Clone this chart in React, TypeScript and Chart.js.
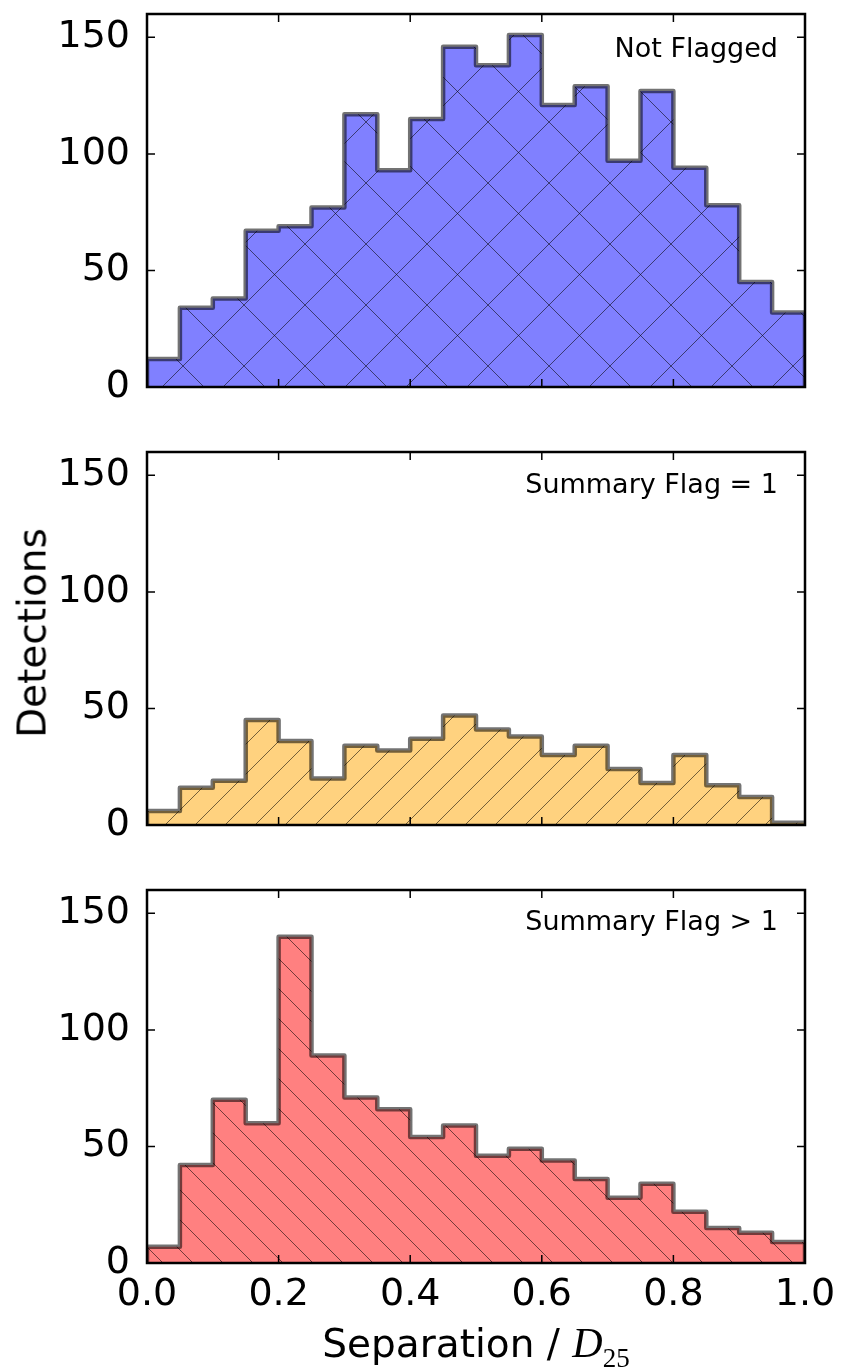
import React, { useEffect, useRef } from 'react';
import Chart from 'chart.js/auto';

// ---- data ----
const binEdges = [0.0, 0.05, 0.1, 0.15, 0.2, 0.25, 0.3, 0.35, 0.4, 0.45, 0.5, 0.55, 0.6, 0.65, 0.7, 0.75, 0.8, 0.85, 0.9, 0.95, 1.0];
const notFlagged = [12, 34, 38, 67, 69, 77, 117, 93, 115, 146, 138, 151, 121, 129, 97, 127, 94, 78, 45, 32];
const flagOne = [6, 16, 19, 45, 36, 20, 34, 32, 37, 47, 41, 38, 30, 34, 24, 18, 30, 17, 12, 1];
const flagMany = [7, 42, 70, 60, 140, 89, 71, 66, 54, 59, 46, 49, 44, 36, 28, 34, 22, 15, 13, 9];
const yTicks = [0, 50, 100, 150];
const xTicks = [0.0, 0.2, 0.4, 0.6, 0.8, 1.0];
const panelLabels = ['Not Flagged', 'Summary Flag = 1', 'Summary Flag > 1'];
const yAxisTitle = 'Detections';
const xAxisTitle = 'Separation / ';

const FONT = '"DejaVu Sans", "Bitstream Vera Sans", sans-serif';
const BACKSLASH = '\\';

function stepPoints(values: number[]) {
  const n = values.length;
  const pts: { x: number; y: number }[] = [{ x: binEdges[0], y: 0 }];
  values.forEach((v, i) => pts.push({ x: binEdges[i], y: v }));
  pts.push({ x: binEdges[n], y: values[n - 1] });
  pts.push({ x: binEdges[n], y: 0 });
  return pts;
}

function makePattern(bg: string, kind: string, period: number) {
  const c = document.createElement('canvas');
  c.width = period;
  c.height = period;
  const g = c.getContext('2d')!;
  g.fillStyle = bg;
  g.fillRect(0, 0, period, period);
  g.strokeStyle = 'rgba(0,0,0,0.55)';
  g.lineWidth = 1;
  const P = period;
  const drawNE = () => {
    for (const x0 of [-P, 0, P]) {
      g.beginPath();
      g.moveTo(x0, P);
      g.lineTo(x0 + P, 0);
      g.stroke();
    }
  };
  const drawNW = () => {
    for (const x0 of [-P, 0, P]) {
      g.beginPath();
      g.moveTo(x0, 0);
      g.lineTo(x0 + P, P);
      g.stroke();
    }
  };
  if (kind === 'x' || kind === '/') drawNE();
  if (kind === 'x' || kind === BACKSLASH) drawNW();
  return g.createPattern(c, 'repeat')!;
}

const framePlugin = {
  id: 'frame',
  afterDraw(chart: any, _args: any, opts: any) {
    const { ctx, chartArea: a, scales } = chart;
    ctx.save();
    ctx.strokeStyle = '#000';
    ctx.lineWidth = 1.5;
    const tl = 8;
    for (const v of xTicks) {
      const px = scales.x.getPixelForValue(v);
      ctx.beginPath();
      ctx.moveTo(px, a.bottom);
      ctx.lineTo(px, a.bottom - tl);
      ctx.moveTo(px, a.top);
      ctx.lineTo(px, a.top + tl);
      ctx.stroke();
    }
    for (const v of yTicks) {
      const py = scales.y.getPixelForValue(v);
      ctx.beginPath();
      ctx.moveTo(a.left, py);
      ctx.lineTo(a.left + tl, py);
      ctx.moveTo(a.right, py);
      ctx.lineTo(a.right - tl, py);
      ctx.stroke();
    }
    ctx.lineWidth = 2.5;
    ctx.strokeRect(a.left, a.top, a.right - a.left, a.bottom - a.top);
    ctx.font = '27px ' + FONT;
    ctx.fillStyle = '#000';
    ctx.textAlign = 'right';
    ctx.textBaseline = 'alphabetic';
    ctx.fillText(opts.text, a.right - 27, a.top + opts.textDy);
    ctx.restore();
  },
};

type PanelProps = {
  top: number;
  height: number;
  padTop: number;
  padBottom: number;
  values: number[];
  bg: string;
  hatch: string;
  period: number;
  label: string;
  textDy: number;
  showX: boolean;
};

function Panel(p: PanelProps) {
  const ref = useRef<HTMLCanvasElement>(null);
  useEffect(() => {
    const canvas = ref.current!;
    const pattern = makePattern(p.bg, p.hatch, p.period);
    const chart = new Chart(canvas, {
      type: 'line',
      data: {
        datasets: [
          {
            data: stepPoints(p.values),
            stepped: true,
            fill: 'origin',
            backgroundColor: pattern,
            borderColor: 'rgba(0,0,0,0.55)',
            borderWidth: 4.5,
            borderJoinStyle: 'round',
            pointRadius: 0,
            clip: 0,
          } as any,
        ],
      },
      options: {
        responsive: false,
        maintainAspectRatio: false,
        animation: false,
        events: [],
        layout: { padding: { left: 0, right: 37, top: p.padTop, bottom: p.padBottom } },
        plugins: {
          legend: { display: false },
          tooltip: { enabled: false },
          frame: { text: p.label, textDy: p.textDy },
        } as any,
        scales: {
          x: {
            type: 'linear',
            min: 0,
            max: 1,
            grid: { display: false },
            border: { display: false },
            ticks: {
              display: p.showX,
              font: { family: FONT, size: 38 },
              color: '#000',
              padding: 1,
              maxRotation: 0,
              callback: (v: any) => Number(v).toFixed(1),
            },
            afterBuildTicks: (s: any) => {
              s.ticks = xTicks.map((v) => ({ value: v }));
            },
            afterFit: (s: any) => {
              s.height = p.showX ? p.top + p.height - 1263 - p.padBottom : 0;
              s.paddingLeft = 0;
              s.paddingRight = 0;
            },
          },
          y: {
            type: 'linear',
            min: 0,
            max: 160,
            grid: { display: false },
            border: { display: false },
            ticks: {
              font: { family: FONT, size: 38 },
              color: '#000',
              padding: 9,
              callback: (v: any) => String(v),
            },
            afterBuildTicks: (s: any) => {
              s.ticks = yTicks.map((v) => ({ value: v }));
            },
            afterFit: (s: any) => {
              s.width = 147;
              s.paddingTop = 0;
              s.paddingBottom = 0;
            },
          },
        },
      },
      plugins: [framePlugin],
    } as any);
    return () => chart.destroy();
  }, []);
  return (
    <canvas
      ref={ref}
      width={842}
      height={p.height}
      style={{ position: 'absolute', left: 0, top: p.top, width: 842, height: p.height }}
    />
  );
}

export default function App() {
  return (
    <div style={{ position: 'absolute', left: 0, top: 0, width: 842, height: 1369, background: '#fff', overflow: 'hidden' }}>
      <Panel top={0} height={420} padTop={14} padBottom={33} values={notFlagged} bg="#8080ff" hatch="x" period={61} label={panelLabels[0]} textDy={43} showX={false} />
      <Panel top={420} height={440} padTop={32} padBottom={35} values={flagOne} bg="#ffd27f" hatch="/" period={30} label={panelLabels[1]} textDy={41} showX={false} />
      <Panel top={860} height={509} padTop={30} padBottom={0} values={flagMany} bg="#ff8080" hatch={BACKSLASH} period={30} label={panelLabels[2]} textDy={40} showX={true} />
      <div
        style={{
          position: 'absolute',
          left: 32,
          top: 633,
          transform: 'translate(-50%, -50%) rotate(-90deg)',
          fontFamily: FONT,
          fontSize: 39,
          lineHeight: 1,
          whiteSpace: 'nowrap',
          color: '#000',
        }}
      >
        {yAxisTitle}
      </div>
      <div
        style={{
          position: 'absolute',
          left: 476,
          top: 1322,
          transform: 'translateX(-50%)',
          fontFamily: FONT,
          fontSize: 39,
          lineHeight: 1,
          whiteSpace: 'nowrap',
          color: '#000',
        }}
      >
        {xAxisTitle}
        <span style={{ fontFamily: '"Liberation Serif", "DejaVu Serif", serif', fontStyle: 'italic', fontSize: 42 }}>D</span>
        <span
          style={{
            fontFamily: '"Liberation Serif", "DejaVu Serif", serif',
            fontSize: 27,
            position: 'relative',
            top: 10,
            lineHeight: 0,
          }}
        >
          25
        </span>
      </div>
    </div>
  );
}
